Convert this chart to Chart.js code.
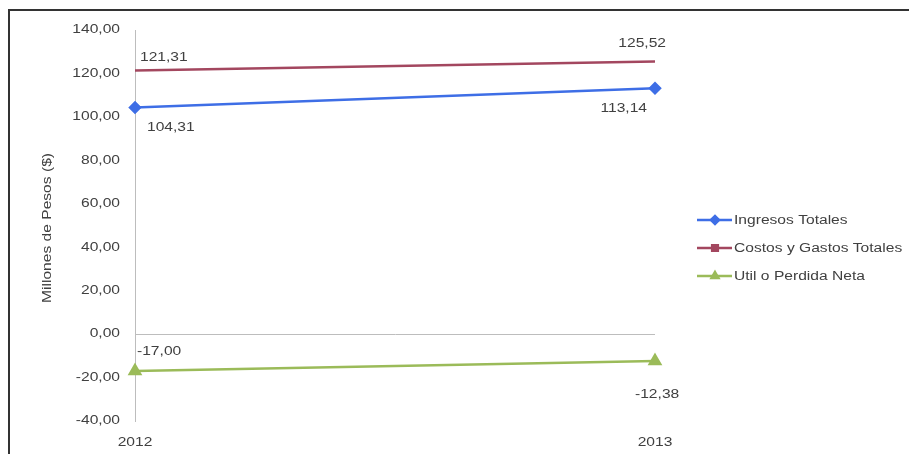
<!DOCTYPE html>
<html>
<head>
<meta charset="utf-8">
<script src="https://cdn.jsdelivr.net/npm/chart.js@4.4.0/dist/chart.umd.min.js"></script>
<style>
  html, body { margin: 0; padding: 0; background: #fff; }
  #wrap { position: relative; width: 909px; height: 454px; }
  #frame { position: absolute; left: 8px; top: 9px; width: 920px; height: 460px; border: 2px solid #333; box-sizing: border-box; pointer-events: none; }
</style>
</head>
<body>
<div id="wrap">
  <canvas id="chart" width="909" height="454"></canvas>
  <div id="frame"></div>
</div>
<script>
// chart data
const years = ['2012', '2013'];
const ingresos = [104.31, 113.14];
const costos = [121.31, 125.52];
const utilidad = [-17.00, -12.38];
const yTicks = [140, 120, 100, 80, 60, 40, 20, 0, -20, -40];

const seriesNames = ['Ingresos Totales', 'Costos y Gastos Totales', 'Util o Perdida Neta'];
const seriesColors = ['#3e6ee6', '#a3475f', '#9bbb59'];
const seriesMarkers = ['rectRot', 'rect', 'triangle'];

// where each value label sits relative to its point: [dx, dy] per year
const labelOffsets = [
    [[12, 20], [-8, 20]],
    [[5, -13], [11, -18]],
    [[2, -19], [-20, 34]]
];
const labelAlign = [['left', 'right'], ['left', 'right'], ['left', 'left']];

// the original text is rendered wide, so stretch it horizontally
const FONT = '12px "Liberation Sans", Arial, sans-serif';
const STRETCH = 1.3;
const TEXT = '#404040';

function fmt(v) {
    return v.toFixed(2).replace('.', ',');
}

function wideText(ctx, text, x, y, align, rot) {
    ctx.save();
    ctx.translate(x, y);
    if (rot) ctx.rotate(rot);
    ctx.scale(STRETCH, 1);
    ctx.font = FONT;
    ctx.fillStyle = TEXT;
    ctx.textAlign = align;
    ctx.textBaseline = 'middle';
    ctx.fillText(text, 0, 0);
    ctx.restore();
}

const axisText = {
    id: 'axisText',
    afterDraw(chart) {
        const ctx = chart.ctx;
        const xs = chart.scales.x, ys = chart.scales.y;
        yTicks.forEach(v => wideText(ctx, fmt(v), 120, ys.getPixelForValue(v), 'right'));
        years.forEach((yr, i) => wideText(ctx, yr, xs.getPixelForValue(i), 443, 'center'));
        wideText(ctx, 'Millones de Pesos ($)', 48, 228, 'center', -Math.PI / 2);
    }
};

const dataLabels = {
    id: 'dataLabels',
    afterDatasetsDraw(chart) {
        const ctx = chart.ctx;
        chart.data.datasets.forEach((ds, i) => {
            const meta = chart.getDatasetMeta(i);
            meta.data.forEach((pt, j) => {
                const off = labelOffsets[i][j];
                wideText(ctx, fmt(ds.data[j]), pt.x + off[0], pt.y + off[1], labelAlign[i][j]);
            });
        });
    }
};

const sideLegend = {
    id: 'sideLegend',
    afterDraw(chart) {
        const ctx = chart.ctx;
        const x0 = 697, y0 = 220, step = 28;
        seriesNames.forEach((name, i) => {
            const y = y0 + i * step;
            ctx.save();
            ctx.strokeStyle = seriesColors[i];
            ctx.lineWidth = 2.5;
            ctx.beginPath();
            ctx.moveTo(x0, y);
            ctx.lineTo(x0 + 35, y);
            ctx.stroke();
            ctx.fillStyle = seriesColors[i];
            ctx.strokeStyle = seriesColors[i];
            Chart.helpers.drawPoint(ctx, { pointStyle: seriesMarkers[i], radius: 4, rotation: 0, borderWidth: 1 }, x0 + 18, y);
            ctx.restore();
            wideText(ctx, name, x0 + 37, y + 1, 'left');
        });
    }
};

const datasets = [ingresos, costos, utilidad].map((vals, i) => ({
    label: seriesNames[i],
    data: vals,
    borderColor: seriesColors[i],
    backgroundColor: seriesColors[i],
    borderWidth: 2.5,
    pointStyle: seriesMarkers[i],
    pointRadius: i === 1 ? 0 : (i === 2 ? 6 : 5),
    tension: 0
}));

new Chart(document.getElementById('chart'), {
    type: 'line',
    data: { labels: years, datasets: datasets },
    options: {
        responsive: false,
        animation: false,
        layout: { padding: { left: 10, right: 254, top: 30, bottom: 0 } },
        plugins: {
            legend: { display: false },
            tooltip: { enabled: false }
        },
        scales: {
            x: {
                type: 'category',
                offset: false,
                grid: { display: false, drawTicks: false },
                border: { display: false },
                ticks: { display: false },
                afterFit(scale) { scale.height = 33; }
            },
            y: {
                min: -40,
                max: 140,
                afterBuildTicks(scale) {
                    scale.ticks = yTicks.slice().reverse().map(v => ({ value: v }));
                },
                grid: {
                    drawTicks: false,
                    color: ctx => (ctx.tick && ctx.tick.value === 0) ? '#bdbdbd' : 'rgba(0,0,0,0)',
                    lineWidth: 1
                },
                border: { display: true, color: '#bdbdbd', width: 1 },
                ticks: { display: false },
                afterFit(scale) { scale.width = 125; }
            }
        }
    },
    plugins: [dataLabels, axisText, sideLegend]
});
</script>
</body>
</html>
